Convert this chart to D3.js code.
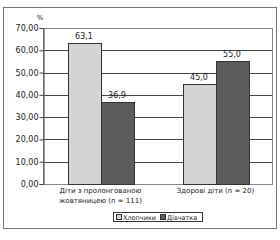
<!DOCTYPE html>
<html>
<head>
<meta charset="utf-8">
<script src="https://cdn.jsdelivr.net/npm/d3@7"></script>
<style>
body { margin: 0; background: #fff; }
text { font-family: "DejaVu Sans", sans-serif; fill: #222; }
</style>
</head>
<body>
<div id="chart"></div>
<script>
var categories = [["Діти з пролонгованою", "жовтяницею (n = 111)"], ["Здорові діти (n = 20)"]];
var series = ["Хлопчики", "Дівчатка"];
var boys = [63.1, 45.0];
var girls = [36.9, 55.0];
var yTicks = [0, 10, 20, 30, 40, 50, 60, 70];
var colors = ["#d4d4d4", "#5c5c5c"];

var layout = {top: 28, bottom: 56, left: 43, right: 7};
var W = 280, H = 240;
var width = W - layout.left - layout.right;
var height = H - layout.top - layout.bottom;

var root = d3.select("#chart").append("svg")
  .attr("width", W).attr("height", H);

// outer frame
root.append("rect")
  .attr("x", 3.5).attr("y", 7.5).attr("width", 273).attr("height", 221)
  .attr("fill", "none").attr("stroke", "#777").attr("stroke-width", 1);

var svg = root.append("g")
  .attr("transform", "translate(" + layout.left + "," + layout.top + ")");

var x = d3.scaleBand().domain(d3.range(categories.length)).range([0, width]);
var y = d3.scaleLinear().domain([0, 70]).range([height, 0]);

// grid lines
svg.selectAll(".grid").data(yTicks).enter().append("line")
  .attr("x1", 0).attr("x2", width)
  .attr("y1", function(d) { return Math.round(y(d)) + 0.5; })
  .attr("y2", function(d) { return Math.round(y(d)) + 0.5; })
  .attr("stroke", "#444").attr("stroke-width", 1);

// plot border
svg.append("rect")
  .attr("x", 0.5).attr("y", Math.round(y(70)) + 0.5)
  .attr("width", width - 1).attr("height", height)
  .attr("fill", "none").attr("stroke", "#888");

var yAxis = d3.axisLeft(y).tickValues(yTicks).tickSize(4)
  .tickFormat(function(d) { return d3.format(".2f")(d).replace(".", ","); });
var ag = svg.append("g").attr("transform", "translate(0.5,0)").call(yAxis);
ag.select(".domain").attr("stroke", "#444");
ag.selectAll(".tick line").attr("stroke", "#444");
ag.selectAll("text").attr("font-size", 8).attr("fill", "#222").attr("x", -5)
  .attr("font-family", "DejaVu Sans");

svg.append("text").attr("x", -3).attr("y", -8).attr("font-size", 7)
  .attr("text-anchor", "middle").text("%");

var barW = 33;
var data = [];
categories.forEach(function(c, i) {
  data.push({cat: i, s: 0, v: boys[i]});
  data.push({cat: i, s: 1, v: girls[i]});
});

function bx(d) { return x(d.cat) + x.bandwidth() / 2 - barW + d.s * barW; }

svg.selectAll(".bar").data(data).enter().append("rect")
  .attr("x", function(d) { return Math.round(bx(d)) + 0.5; })
  .attr("y", function(d) { return Math.round(y(d.v)) + 0.5; })
  .attr("width", barW)
  .attr("height", function(d) { return Math.round(y(0)) - Math.round(y(d.v)); })
  .attr("fill", function(d) { return colors[d.s]; })
  .attr("stroke", "#333").attr("stroke-width", 1);

svg.selectAll(".val").data(data).enter().append("text")
  .attr("x", function(d) { return bx(d) + barW / 2; })
  .attr("y", function(d) { return y(d.v) - 4; })
  .attr("text-anchor", "middle").attr("font-size", 8)
  .text(function(d) { return d3.format(".1f")(d.v).replace(".", ","); });

// category labels
categories.forEach(function(lines, i) {
  var t = svg.append("text")
    .attr("x", x(i) + x.bandwidth() / 2)
    .attr("y", height + 9)
    .attr("text-anchor", "middle").attr("font-size", 7);
  lines.forEach(function(l, j) {
    t.append("tspan").attr("x", x(i) + x.bandwidth() / 2)
      .attr("dy", j === 0 ? 0 : 10).text(l);
  });
});

// legend
var lg = root.append("g").attr("transform", "translate(113,212)");
lg.append("rect").attr("x", 0.5).attr("y", 0.5).attr("width", 89).attr("height", 9)
  .attr("fill", "#fff").attr("stroke", "#333");
var lx = [3, 47];
series.forEach(function(s, i) {
  lg.append("rect").attr("x", lx[i] + 0.5).attr("y", 2.5).attr("width", 5).attr("height", 5)
    .attr("fill", colors[i]).attr("stroke", "#333");
  lg.append("text").attr("x", lx[i] + 7).attr("y", 7.8).attr("font-size", 6.5).text(s);
});
</script>
</body>
</html>
